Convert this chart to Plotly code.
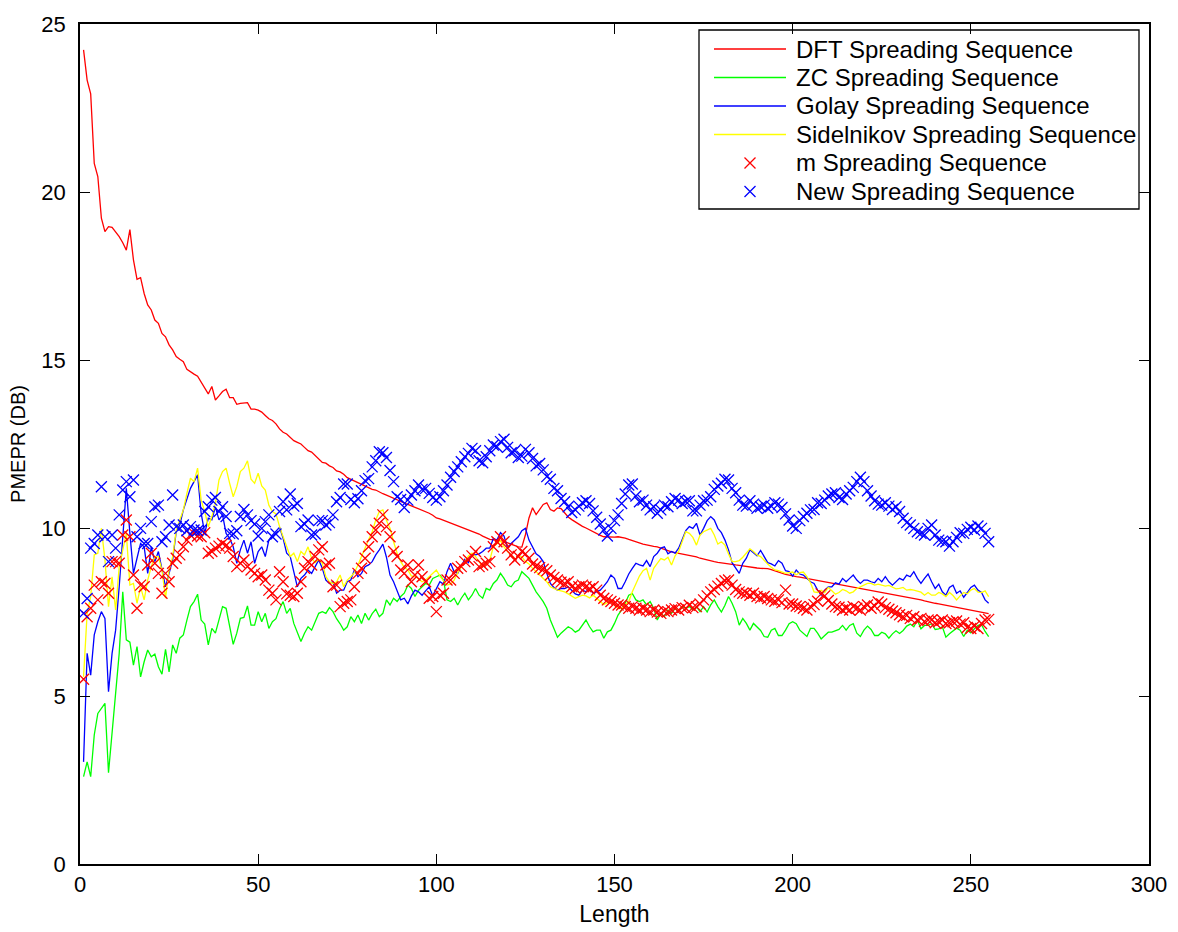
import plotly.graph_objects as go

# ---------------------------------------------------------------------------
# PMEPR (dB) versus sequence length, one value per length 1..255
# ---------------------------------------------------------------------------
dft = [
    # 1-26
    24.23, 23.33, 22.92, 20.85, 20.46, 19.22, 18.82, 18.97, 18.95, 18.82, 18.67, 18.49, 18.27,
    18.88, 17.98, 17.40, 17.45, 16.98, 16.64, 16.49, 16.19, 16.09, 15.79, 15.69, 15.45, 15.30,
    # 27-53
    15.10, 15.02, 14.95, 14.72, 14.64, 14.58, 14.52, 14.35, 14.16, 13.99, 14.21, 13.81, 13.93,
    14.06, 14.13, 13.88, 13.88, 13.68, 13.71, 13.71, 13.73, 13.54, 13.54, 13.51, 13.45, 13.35, 13.25,
    # 54-84
    13.20, 13.10, 12.95, 12.85, 12.80, 12.70, 12.60, 12.55, 12.50, 12.40, 12.30, 12.26, 12.15,
    12.05, 11.95, 11.93, 11.85, 11.80, 11.70, 11.67, 11.60, 11.50, 11.45, 11.40, 11.37, 11.30,
    11.25, 11.20, 11.15, 11.13, 11.07,
    # 85-115
    11.02, 10.98, 10.93, 10.88, 10.83, 10.78, 10.74, 10.70, 10.66, 10.62, 10.58, 10.53, 10.49,
    10.44, 10.38, 10.30, 10.27, 10.23, 10.19, 10.14, 10.10, 10.06, 10.02, 9.98, 9.94, 9.90,
    9.86, 9.82, 9.76, 9.70, 9.66,
    # 116-145
    9.65, 9.64, 9.62, 9.60, 9.56, 9.52, 9.48, 9.44, 9.43, 9.80, 10.30, 10.60, 10.40, 10.55,
    10.70, 10.75, 10.55, 10.50, 10.60, 10.58, 10.45, 10.33, 10.25, 10.18, 10.10, 10.05, 10.00,
    9.94, 9.88, 9.82,
    # 146-176
    9.78, 9.74, 9.73, 9.74, 9.73, 9.74, 9.73, 9.70, 9.66, 9.62, 9.58, 9.55, 9.52, 9.50, 9.47,
    9.45, 9.44, 9.40, 9.36, 9.32, 9.29, 9.27, 9.25, 9.23, 9.21, 9.20, 9.17, 9.14, 9.10, 9.07, 9.05,
    # 177-207
    9.03, 9.00, 8.98, 8.96, 8.94, 8.93, 8.92, 8.90, 8.89, 8.87, 8.86, 8.84, 8.82, 8.81, 8.80,
    8.80, 8.79, 8.76, 8.72, 8.68, 8.65, 8.62, 8.60, 8.57, 8.55, 8.54, 8.52, 8.50, 8.48, 8.46, 8.45,
    # 208-238
    8.43, 8.41, 8.39, 8.37, 8.35, 8.33, 8.31, 8.29, 8.27, 8.25, 8.23, 8.21, 8.19, 8.17, 8.15,
    8.13, 8.11, 8.09, 8.07, 8.05, 8.03, 8.01, 7.99, 7.97, 7.95, 7.93, 7.91, 7.89, 7.86, 7.83, 7.80,
    # 239-255
    7.78, 7.76, 7.74, 7.72, 7.70, 7.68, 7.66, 7.64, 7.62, 7.60, 7.58, 7.56, 7.54, 7.52, 7.50,
    7.48, 7.45,
]

zc = [
    # 1-26
    2.60, 3.04, 2.60, 3.84, 4.48, 4.63, 4.78, 2.72, 3.89, 5.08, 6.27, 8.10, 6.67, 6.60, 5.92,
    6.47, 5.57, 6.02, 6.37, 6.17, 6.25, 5.87, 5.65, 6.39, 5.72, 6.52,
    # 27-53
    6.27, 6.72, 6.82, 7.26, 7.66, 7.81, 8.03, 7.26, 7.14, 6.52, 7.01, 6.87, 7.31, 7.66, 7.61,
    7.06, 6.54, 6.87, 7.31, 7.34, 7.68, 7.11, 7.11, 7.51, 7.21, 7.46, 7.01,
    # 54-84
    7.21, 7.30, 7.60, 7.81, 7.46, 7.61, 7.16, 6.87, 6.62, 6.87, 7.06, 6.96, 7.21, 7.46, 7.51,
    7.46, 7.63, 7.51, 7.30, 7.15, 6.96, 7.06, 7.36, 7.21, 7.41, 7.16, 7.46, 7.26, 7.45, 7.58, 7.36,
    # 85-115
    7.46, 7.86, 7.71, 7.91, 7.81, 7.96, 8.06, 8.30, 8.20, 7.96, 8.15, 8.25, 8.35, 8.30, 8.50,
    8.55, 8.60, 8.45, 7.86, 7.81, 7.91, 7.71, 7.91, 8.06, 7.86, 8.00, 8.20, 8.00, 7.91, 8.20, 8.15,
    # 116-145
    8.35, 8.45, 8.65, 8.50, 8.30, 8.25, 8.40, 8.45, 8.70, 8.60, 8.50, 8.30, 8.10, 7.96, 7.81,
    7.61, 7.26, 7.01, 6.75, 6.87, 6.96, 7.06, 7.00, 6.90, 6.96, 7.10, 7.26, 7.06, 6.91, 6.96,
    # 146-176
    6.96, 6.72, 6.91, 6.96, 7.16, 7.41, 7.56, 7.76, 8.00, 8.05, 7.86, 7.81, 7.86, 7.71, 7.81,
    7.61, 7.26, 7.46, 7.36, 7.56, 7.46, 7.61, 7.51, 7.66, 7.61, 7.66, 7.56, 7.66, 7.51, 7.66, 7.50,
    # 177-207
    7.71, 7.86, 7.66, 7.50, 7.70, 7.96, 7.76, 7.51, 7.11, 7.31, 7.16, 6.96, 7.16, 7.06, 6.95,
    6.77, 6.75, 6.96, 7.01, 6.80, 6.80, 6.96, 7.15, 7.21, 7.15, 6.96, 6.85, 6.77, 7.01, 7.01, 6.87,
    # 208-238
    6.70, 6.80, 6.90, 6.90, 6.95, 6.98, 7.10, 6.96, 7.10, 7.15, 6.87, 6.77, 6.96, 7.08, 6.98,
    6.80, 6.80, 6.90, 6.85, 6.72, 6.85, 6.94, 6.86, 6.95, 7.08, 7.14, 7.06, 7.26, 7.00, 7.10, 7.10,
    # 239-255
    7.15, 6.98, 7.00, 7.06, 6.75, 6.85, 6.95, 7.02, 6.96, 6.77, 6.96, 6.88, 7.00, 7.10, 7.12,
    6.92, 6.77,
]

golay = [
    # 1-26
    3.04, 6.27, 5.62, 6.82, 7.21, 7.51, 7.31, 5.13, 6.27, 6.96, 8.25, 9.84, 11.18, 9.84, 8.65,
    9.10, 9.54, 9.44, 8.65, 9.44, 9.00, 9.30, 8.80, 8.25, 8.65, 9.05,
    # 27-53
    9.89, 10.09, 10.54, 10.83, 11.18, 11.38, 11.58, 10.44, 9.84, 10.29, 10.24, 10.63, 10.24,
    10.39, 9.84, 9.69, 9.44, 8.95, 9.35, 9.64, 9.25, 9.59, 8.95, 9.30, 9.44, 9.15, 9.64,
    # 54-84
    9.79, 9.92, 10.02, 9.69, 9.25, 9.15, 8.65, 8.25, 8.50, 8.60, 8.75, 8.65, 8.85, 9.05, 8.80,
    8.45, 8.35, 8.40, 8.06, 8.15, 8.15, 8.40, 8.45, 8.75, 8.55, 8.65, 8.85, 8.90, 9.00, 9.20, 9.35,
    # 85-115
    9.52, 9.13, 8.60, 8.40, 8.10, 7.86, 7.91, 7.74, 7.98, 8.15, 8.10, 8.00, 8.13, 8.25, 7.98,
    8.20, 8.40, 8.33, 8.70, 8.95, 8.70, 8.65, 8.85, 9.07, 8.97, 9.23, 9.20, 9.23, 9.30, 9.40, 9.40,
    # 116-145
    9.69, 9.64, 9.86, 9.76, 9.40, 9.54, 9.64, 9.74, 9.92, 9.99, 9.64, 9.44, 9.23, 9.15, 9.00,
    8.65, 8.35, 8.23, 8.15, 8.20, 8.20, 8.25, 8.15, 8.04, 8.00, 8.15, 8.10, 8.20, 8.06, 8.10,
    # 146-176
    8.15, 8.27, 8.40, 8.60, 8.50, 8.20, 8.20, 8.40, 8.63, 8.80, 8.95, 8.90, 8.87, 9.03, 8.85,
    9.15, 9.25, 9.40, 9.44, 9.23, 9.30, 9.25, 9.40, 9.66, 9.92, 10.04, 9.99, 10.14, 9.79, 9.99, 10.22,
    # 177-207
    10.34, 10.24, 9.99, 9.86, 9.64, 9.35, 8.97, 8.80, 8.65, 8.95, 9.10, 9.35, 9.27, 9.17, 9.33,
    9.13, 8.97, 8.93, 8.87, 9.03, 8.95, 8.73, 8.70, 8.57, 8.75, 8.63, 8.60, 8.50, 8.40, 8.35, 8.15,
    # 208-238
    8.00, 8.15, 8.25, 8.25, 8.37, 8.33, 8.50, 8.40, 8.50, 8.60, 8.45, 8.35, 8.45, 8.45, 8.40,
    8.37, 8.50, 8.40, 8.55, 8.40, 8.30, 8.40, 8.50, 8.45, 8.60, 8.55, 8.70, 8.50, 8.35, 8.50, 8.63,
    # 239-255
    8.40, 8.20, 8.33, 8.10, 8.00, 8.23, 8.30, 8.06, 8.13, 7.94, 8.08, 8.23, 8.30, 8.15, 8.08,
    7.86, 7.76,
]

sidelnikov = [
    # 1-26
    5.57, 7.46, 7.96, 9.20, 9.25, 9.99, 9.05, 7.66, 8.55, 7.56, 8.85, 9.40, 9.84, 8.30, 8.35,
    7.76, 8.25, 7.86, 8.45, 8.85, 9.15, 9.15, 8.75, 7.91, 8.75, 9.15,
    # 27-53
    9.92, 10.24, 10.54, 11.03, 11.48, 11.38, 11.78, 10.83, 10.49, 10.04, 10.34, 10.73, 11.43,
    11.68, 11.78, 11.33, 10.93, 11.23, 11.68, 11.78, 12.00, 11.45, 11.33, 11.63, 11.25, 11.13, 10.68,
    # 54-84
    10.49, 10.42, 10.04, 9.74, 9.44, 9.15, 9.25, 9.00, 9.30, 9.20, 9.44, 9.10, 8.97, 9.07, 8.95,
    8.55, 8.40, 8.35, 8.40, 8.60, 8.25, 8.45, 8.55, 8.67, 8.90, 9.17, 9.44, 9.66, 9.89, 10.24, 10.49,
    # 85-115
    10.54, 10.22, 9.99, 9.59, 9.25, 9.00, 8.83, 8.75, 8.57, 8.57, 8.47, 8.40, 8.45, 8.55, 8.65,
    8.75, 8.57, 8.43, 8.30, 8.33, 8.45, 8.67, 8.85, 9.03, 9.17, 9.25, 9.15, 9.00, 8.85, 8.95, 9.05,
    # 116-145
    9.44, 9.54, 9.62, 9.44, 9.30, 9.20, 9.07, 9.15, 9.15, 9.00, 8.93, 8.80, 8.70, 8.57, 8.50,
    8.40, 8.25, 8.20, 8.15, 8.13, 8.10, 8.04, 7.98, 7.91, 7.96, 8.00, 7.98, 7.92, 8.00, 7.91,
    # 146-176
    7.81, 7.72, 7.78, 7.84, 7.70, 7.60, 7.61, 7.71, 7.81, 8.10, 8.33, 8.57, 8.73, 8.80, 8.45,
    8.80, 8.95, 9.09, 9.05, 9.13, 8.90, 9.17, 9.30, 9.59, 9.89, 9.84, 9.72, 9.49, 9.79, 9.89, 9.94,
    # 177-207
    9.99, 9.79, 9.52, 9.59, 9.49, 9.23, 9.00, 9.00, 9.03, 9.13, 9.27, 9.38, 9.30, 9.20, 9.15,
    9.03, 8.93, 8.83, 8.75, 8.73, 8.70, 8.65, 8.67, 8.69, 8.61, 8.67, 8.69, 8.55, 8.37, 8.10, 8.08,
    # 208-238
    8.15, 8.08, 8.23, 8.13, 8.03, 8.08, 8.17, 8.13, 8.06, 8.10, 8.20, 8.25, 8.30, 8.35, 8.35,
    8.30, 8.33, 8.29, 8.27, 8.29, 8.23, 8.19, 8.20, 8.23, 8.15, 8.17, 8.15, 8.13, 8.09, 8.00, 8.08,
    # 239-255
    8.00, 8.00, 8.08, 8.04, 7.96, 8.08, 7.99, 7.86, 7.98, 8.08, 8.04, 8.15, 8.20, 8.09, 8.08,
    8.13, 7.96,
]

m_seq = [
    # 1-26
    5.50, 7.36, 7.61, 8.30, 7.86, 8.40, 8.35, 8.06, 9.00, 9.00, 8.95, 9.79, 10.24, 9.74, 8.60,
    7.61, 8.30, 8.25, 8.90, 9.25, 8.95, 8.65, 8.06, 8.65, 8.40, 8.95,
    # 27-53
    9.10, 9.20, 9.44, 9.64, 9.79, 9.84, 9.76, 9.74, 9.86, 9.25, 9.30, 9.40, 9.46, 9.54, 9.48,
    9.40, 9.15, 8.85, 8.95, 9.05, 8.85, 8.75, 8.65, 8.55, 8.60, 8.45, 8.15,
    # 54-84
    8.06, 7.86, 8.70, 8.40, 8.04, 8.00, 7.96, 8.06, 8.40, 8.80, 9.00, 8.90, 9.15, 9.35, 9.44,
    8.90, 8.95, 8.25, 8.30, 7.66, 7.76, 7.81, 7.86, 8.25, 8.65, 8.80, 9.10, 9.44, 9.74, 9.94, 10.14,
    # 85-115
    10.39, 10.04, 9.74, 9.30, 9.15, 8.75, 8.65, 8.90, 8.40, 8.60, 8.90, 8.55, 8.40, 7.91, 7.96,
    7.51, 8.00, 8.06, 8.45, 8.45, 8.65, 8.80, 8.85, 9.00, 9.05, 9.17, 9.30, 8.85, 8.90, 8.95, 9.00,
    # 116-145
    9.44, 9.59, 9.74, 9.59, 9.40, 9.20, 9.05, 9.15, 9.30, 9.23, 9.10, 8.93, 8.87, 8.82, 8.77,
    8.73, 8.60, 8.53, 8.45, 8.39, 8.35, 8.40, 8.25, 8.20, 8.25, 8.30, 8.25, 8.19, 8.25, 8.15,
    # 146-176
    8.00, 7.91, 7.86, 7.81, 7.76, 7.71, 7.71, 7.66, 7.61, 7.66, 7.61, 7.56, 7.61, 7.56, 7.51,
    7.56, 7.50, 7.46, 7.53, 7.51, 7.56, 7.60, 7.56, 7.63, 7.61, 7.70, 7.63, 7.66, 7.74, 7.86, 7.98,
    # 177-207
    8.10, 8.17, 8.27, 8.35, 8.43, 8.45, 8.30, 8.17, 8.10, 8.06, 8.06, 8.00, 8.06, 7.96, 7.92,
    7.96, 7.90, 7.86, 7.82, 7.86, 7.78, 8.15, 7.74, 7.74, 7.68, 7.66, 7.61, 7.56, 7.66, 7.72, 7.82,
    # 208-238
    8.04, 7.98, 7.84, 7.74, 7.66, 7.64, 7.56, 7.61, 7.56, 7.66, 7.61, 7.56, 7.66, 7.71, 7.61,
    7.68, 7.80, 7.74, 7.63, 7.58, 7.53, 7.48, 7.42, 7.36, 7.40, 7.31, 7.36, 7.26, 7.31, 7.22, 7.26,
    # 239-255
    7.26, 7.18, 7.21, 7.26, 7.16, 7.18, 7.21, 7.23, 7.14, 7.18, 7.04, 7.01, 7.08, 7.01, 7.16,
    7.26, 7.28,
]

new_seq = [
    # 1-26
    7.46, 7.90, 9.40, 9.54, 9.79, 11.23, 9.74, 9.00, 9.79, 9.40, 10.39, 11.13, 11.38, 10.93,
    11.43, 9.74, 9.99, 9.54, 9.54, 10.19, 10.63, 10.68, 9.59, 9.74, 10.09, 10.98,
    # 27-53
    10.04, 9.99, 10.09, 9.92, 10.04, 9.94, 9.92, 9.94, 10.49, 10.63, 10.83, 10.91, 10.49,
    10.63, 10.34, 9.84, 9.82, 9.92, 10.34, 10.55, 10.39, 10.22, 10.12, 9.76, 9.99, 10.19, 10.39,
    # 54-84
    9.74, 9.82, 10.49, 10.78, 10.54, 11.01, 10.65, 10.73, 10.04, 10.12, 10.24, 9.79, 9.82,
    10.22, 10.22, 10.09, 10.16, 10.39, 10.78, 10.91, 11.31, 11.31, 10.85, 10.75, 10.87, 11.11,
    11.41, 11.47, 11.82, 12.00, 12.27,
    # 85-115
    12.24, 12.10, 11.71, 11.38, 10.93, 10.85, 10.61, 10.83, 10.98, 11.11, 11.28, 11.15, 11.18,
    11.03, 10.91, 10.83, 10.93, 11.11, 11.28, 11.51, 11.68, 11.82, 11.97, 12.12, 12.22, 12.37,
    12.30, 12.00, 11.94, 12.12, 12.30,
    # 116-145
    12.47, 12.42, 12.57, 12.64, 12.40, 12.24, 12.30, 12.10, 12.14, 12.34, 12.24, 12.07, 11.85,
    11.92, 11.73, 11.53, 11.45, 11.18, 11.11, 10.88, 10.78, 10.63, 10.46, 10.54, 10.65, 10.75,
    10.81, 10.73, 10.51, 10.32,
    # 146-176
    10.12, 9.94, 9.76, 9.99, 10.22, 10.39, 10.73, 11.01, 11.28, 11.31, 10.95, 10.78, 10.83,
    10.68, 10.54, 10.63, 10.44, 10.54, 10.68, 10.63, 10.78, 10.88, 10.83, 10.73, 10.79, 10.81,
    10.51, 10.51, 10.68, 10.81, 10.83,
    # 177-207
    10.93, 11.15, 11.25, 11.33, 11.45, 11.43, 11.18, 11.05, 10.83, 10.68, 10.65, 10.81, 10.71,
    10.59, 10.63, 10.68, 10.59, 10.65, 10.75, 10.71, 10.61, 10.42, 10.24, 10.06, 9.99, 10.22,
    10.34, 10.44, 10.54, 10.55, 10.75,
    # 208-238
    10.73, 10.83, 10.95, 11.01, 11.05, 10.91, 10.85, 11.01, 11.11, 11.21, 11.38, 11.51, 11.38,
    11.11, 10.95, 10.81, 10.71, 10.68, 10.75, 10.65, 10.55, 10.63, 10.49, 10.29, 10.16, 10.09,
    9.99, 9.89, 9.84, 9.79, 9.99,
    # 239-255
    10.09, 9.79, 9.64, 9.61, 9.59, 9.46, 9.59, 9.72, 9.86, 9.84, 9.96, 10.02, 9.94, 10.06,
    9.99, 9.84, 9.59,
]

names = [
    "DFT Spreading Sequence",
    "ZC Spreading Sequence",
    "Golay Spreading Sequence",
    "Sidelnikov Spreading Sequence",
    "m Spreading Sequence",
    "New Spreading Sequence",
]

x_ticks = [0, 50, 100, 150, 200, 250, 300]
y_ticks = [0, 5, 10, 15, 20, 25]

# ---------------------------------------------------------------------------
# Figure geometry / styling
# ---------------------------------------------------------------------------
W, H = 1178, 932
ML, MR, MT, MB = 80, 29, 24, 68
FONT = "Liberation Sans, Arial, Helvetica, sans-serif"
RED, GREEN, BLUE, YELLOW = "#ff0000", "#00ff00", "#0000ff", "#ffff00"
LW = 1.3
PW, PH = W - ML - MR, H - MT - MB


def px_x(px):
    return (px - ML) / PW


def px_y(py):
    return (H - MB - py) / PH


fig = go.Figure()

series = [
    (dft, "lines", RED),
    (zc, "lines", GREEN),
    (golay, "lines", BLUE),
    (sidelnikov, "lines", YELLOW),
    (m_seq, "markers", RED),
    (new_seq, "markers", BLUE),
]

for (vals, mode, col), name in zip(series, names):
    xs = list(range(1, len(vals) + 1))
    if mode == "lines":
        fig.add_trace(go.Scatter(x=xs, y=vals, mode="lines", name=name,
                                 line=dict(color=col, width=LW), showlegend=False,
                                 hoverinfo="skip"))
    else:
        fig.add_trace(go.Scatter(x=xs, y=vals, mode="markers", name=name,
                                 marker=dict(symbol="x-thin", size=11, color=col,
                                             line=dict(color=col, width=LW)),
                                 showlegend=False, hoverinfo="skip"))

# ---------------------------------------------------------------------------
# Boxed legend in the upper right corner
# ---------------------------------------------------------------------------
LEG_L, LEG_R, LEG_T, LEG_B = 699, 1139, 30, 209
ROW0, ROW_STEP = 49, 28.5
SAMPLE_L, SAMPLE_R, TEXT_L = 714, 786, 795
LEG_FONT = 24

shapes = [dict(type="rect", xref="paper", yref="paper",
               x0=px_x(LEG_L), x1=px_x(LEG_R), y0=px_y(LEG_B), y1=px_y(LEG_T),
               line=dict(color="black", width=1.3), fillcolor="white", layer="below")]
annotations = []
mk_x, mk_y, mk_c = [], [], []
for i, ((vals, mode, col), name) in enumerate(zip(series, names)):
    yc = ROW0 + i * ROW_STEP
    if mode == "lines":
        shapes.append(dict(type="line", xref="paper", yref="paper",
                           x0=px_x(SAMPLE_L), x1=px_x(SAMPLE_R), y0=px_y(yc), y1=px_y(yc),
                           line=dict(color=col, width=LW), layer="above"))
    else:
        mk_x.append(px_x((SAMPLE_L + SAMPLE_R) / 2))
        mk_y.append(px_y(yc))
        mk_c.append(col)
    annotations.append(dict(xref="paper", yref="paper", x=px_x(TEXT_L - 1), y=px_y(yc),
                            xanchor="left", yanchor="middle", text=name, showarrow=False,
                            font=dict(family=FONT, size=LEG_FONT, color="black")))

fig.add_trace(go.Scatter(x=mk_x, y=mk_y, mode="markers", xaxis="x2", yaxis="y2",
                         marker=dict(symbol="x-thin", size=11, color=mk_c,
                                     line=dict(color=mk_c, width=LW)),
                         showlegend=False, hoverinfo="skip"))

axis_common = dict(showline=True, linecolor="black", linewidth=1.5, mirror="ticks",
                   ticks="inside", ticklen=10, tickwidth=1, tickcolor="black",
                   showgrid=False, zeroline=False, automargin=False,
                   tickfont=dict(family=FONT, size=22, color="black"))

fig.update_layout(
    width=W, height=H,
    margin=dict(l=ML, r=MR, t=MT, b=MB),
    paper_bgcolor="white", plot_bgcolor="white",
    showlegend=False,
    xaxis=dict(range=[0, 300], tickvals=x_ticks, ticktext=[str(v) for v in x_ticks],
               title=dict(text="Length", font=dict(family=FONT, size=23, color="black"),
                          standoff=10),
               **axis_common),
    yaxis=dict(range=[0, 25], tickvals=y_ticks, ticktext=[str(v) for v in y_ticks],
               ticklabelstandoff=8,
               title=dict(text="PMEPR (DB)", font=dict(family=FONT, size=20, color="black"),
                          standoff=10),
               **axis_common),
    xaxis2=dict(range=[0, 1], overlaying="x", visible=False, domain=[0, 1]),
    yaxis2=dict(range=[0, 1], overlaying="y", visible=False, domain=[0, 1]),
    shapes=shapes,
    annotations=annotations,
)

fig.write_html("out.html")
